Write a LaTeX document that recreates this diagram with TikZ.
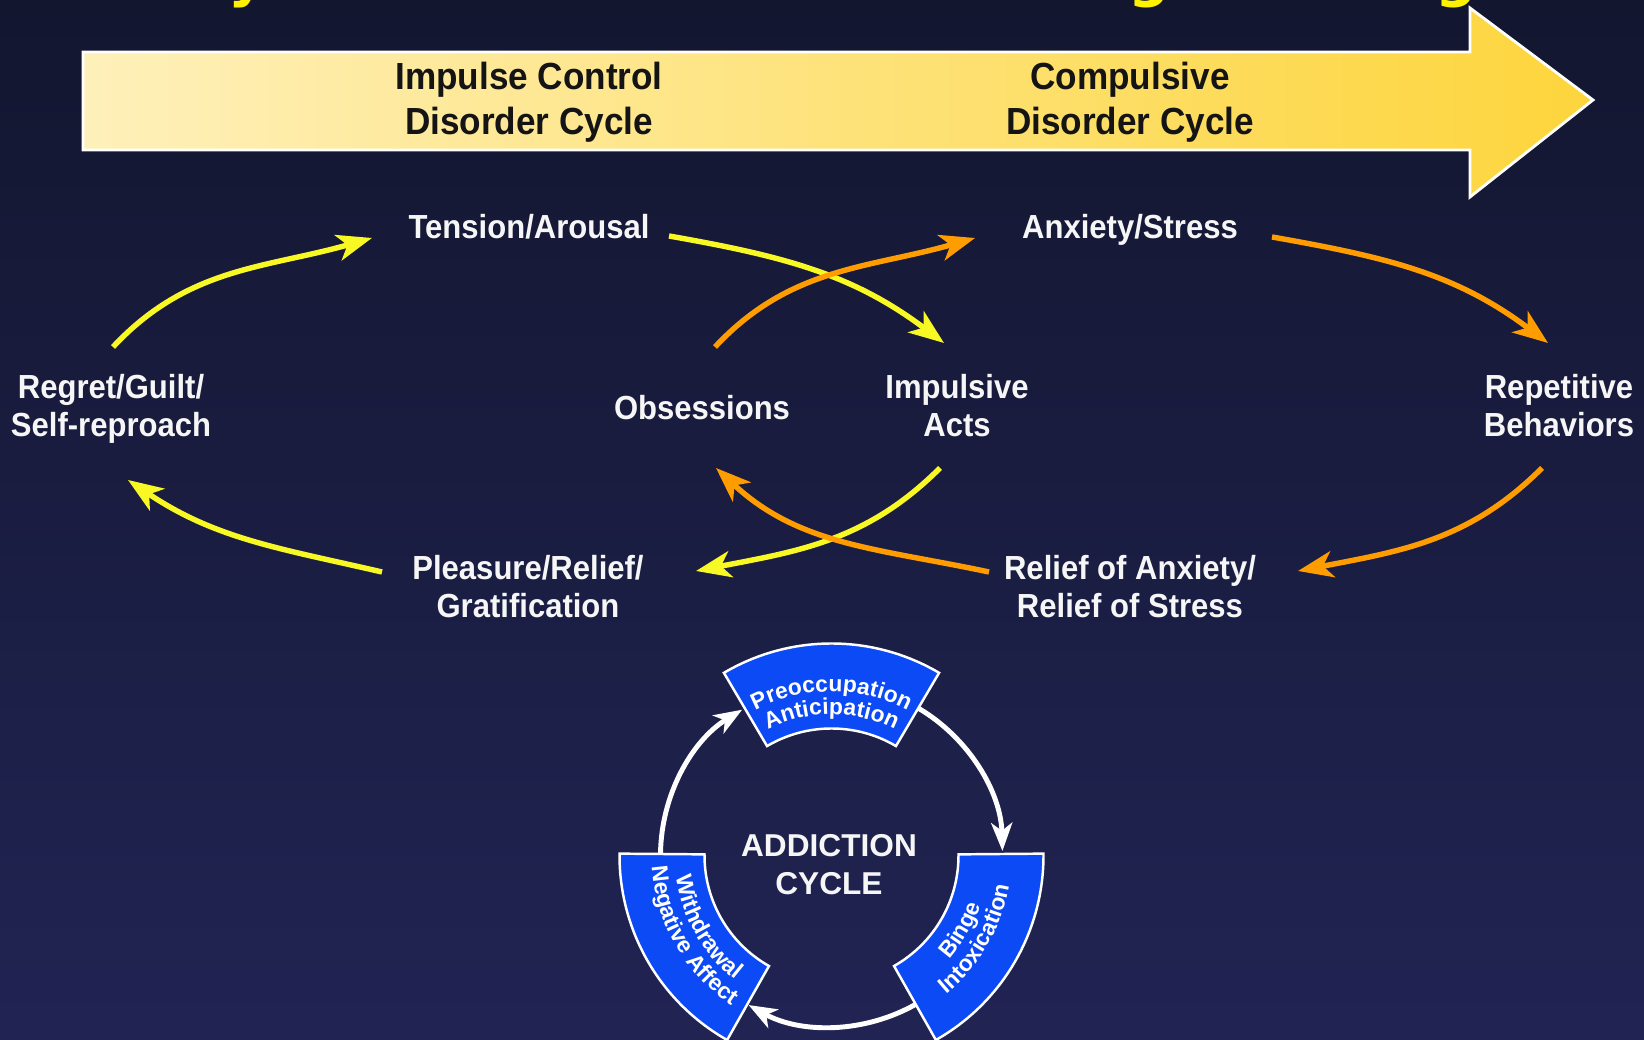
\documentclass[tikz,border=0pt]{standalone}
\usepackage{fontspec}
\setmainfont{Liberation Sans}[FakeStretch=0.93]
\newfontfamily\ringfont{Liberation Sans}
\newfontfamily\headfont{DejaVu Sans}
\usetikzlibrary{arrows.meta,calc,decorations.text}

\definecolor{bgtop}{RGB}{19,22,47}
\definecolor{bgbot}{RGB}{33,36,83}
\definecolor{bandL}{RGB}{254,240,186}
\definecolor{bandR}{RGB}{253,213,60}
\definecolor{impY}{RGB}{248,248,36}
\definecolor{cmpO}{RGB}{255,156,0}
\definecolor{stageB}{RGB}{12,74,246}
\definecolor{labelW}{RGB}{246,246,246}

\newcommand\stagetextfont{\ringfont\bfseries\fontsize{13}{13}\selectfont}

\tikzset{
  lbl/.style={text=labelW, font=\bfseries\fontsize{19}{21.6}\selectfont, align=center, inner sep=0pt},
  bandlbl/.style={text=black!92, font=\bfseries\fontsize{21.5}{25.6}\selectfont, align=center, inner sep=0pt},
  cycarrow/.style={line width=3.1pt, -{Stealth[length=20pt,width=15pt,inset=5.5pt]}},
  impcyc/.style={cycarrow, draw=impY},
  cmpcyc/.style={cycarrow, draw=cmpO},
  stagebox/.style={fill=stageB, draw=white, line width=1.4pt, line join=miter},
  ringarrow/.style={draw=white, line width=2.8pt, -{Stealth[length=16pt,width=12pt,inset=4.5pt]}},
  stagetext/.style={decorate, decoration={text along path, text align=center, text color=white, text={|\stagetextfont|#1}}},
}

\begin{document}
\begin{tikzpicture}[x=0.02cm,y=0.02cm]
\useasboundingbox (0,0) rectangle (1644,1040);
\shade[top color=bgtop,bottom color=bgbot] (0,0) rectangle (1644,1040);

% heading, only its descenders reach into the frame
\begin{scope}
  \clip (0,0) rectangle (1644,1040);
  \foreach \px/\ch [count=\i] in {228/y,1128/g,1435/g}
    \node[anchor=base west, inner sep=0pt, text=yellow,
          font=\headfont\bfseries\fontsize{33}{33}\selectfont] (head\i) at (\px,1044) {\ch};
\end{scope}

% progression band
\shadedraw[left color=bandL, right color=bandR, draw=white, line width=1.6pt, line join=miter]
  (83,988) -- (1470,988) -- (1470,1032) -- (1593,940) -- (1470,843) -- (1470,890) -- (83,890) -- cycle;
\node[bandlbl] (impband) at (529,938) {Impulse Control\\Disorder Cycle};
\node[bandlbl] (cmpband) at (1130,938) {Compulsive\\Disorder Cycle};

% impulse control cycle
\node[lbl] (tension)   at (529,813.5) {Tension/Arousal};
\node[lbl] (impulsive) at (957,634)   {Impulsive\\Acts};
\node[lbl] (pleasure)  at (528,453)   {Pleasure/Relief/\\Gratification};
\node[lbl] (regret)    at (111,631)   {Regret/Guilt/\\Self-reproach};

% compulsive cycle
\node[lbl] (anxiety)    at (1130,810.5) {Anxiety/Stress};
\node[lbl] (repetitive) at (1559,634)   {Repetitive\\Behaviors};
\node[lbl] (reliefn)    at (1130,453)   {Relief of Anxiety/\\Relief of Stress};
\node[lbl] (obsess)     at (702,632)    {Obsessions};

\draw[impcyc] ([shift={(2,62)}]regret.center) to[out=47,in=196] ([shift={(-157,-11.5)}]tension.center);
\draw[impcyc] ([shift={(140,-9.5)}]tension.center) to[out=-10,in=143] ([shift={(-13,63)}]impulsive.center);
\draw[impcyc] ([shift={(-17,-62)}]impulsive.center) to[out=225,in=11] ([shift={(168,16)}]pleasure.center);
\draw[impcyc] ([shift={(-146,15)}]pleasure.center) to[out=167,in=326] ([shift={(17,-71)}]regret.center);

\draw[cmpcyc] ([shift={(13,61)}]obsess.center) to[out=47,in=196] ([shift={(-155,-8.5)}]anxiety.center);
\draw[cmpcyc] ([shift={(142,-7.5)}]anxiety.center) to[out=-10,in=143] ([shift={(-11,63)}]repetitive.center);
\draw[cmpcyc] ([shift={(-17,-62)}]repetitive.center) to[out=225,in=11] ([shift={(168,16)}]reliefn.center);
\draw[cmpcyc] ([shift={(-141,15)}]reliefn.center) to[out=168,in=317] ([shift={(14,-60)}]obsess.center);

% addiction cycle
\coordinate (hub) at (831.5,184.5);
\draw[ringarrow] ($(hub)+(59.5:171)$) arc[start angle=59.5, end angle=1.5, radius=171];
\draw[ringarrow] ($(hub)+(-60.5:171)$) arc[start angle=-60.5, end angle=-119, radius=171];
\draw[ringarrow] ($(hub)+(179.5:171)$) arc[start angle=179.5, end angle=121.5, radius=171];

\foreach \s/\e in {59.5/120.5,-60.5/0.5,179.5/240.5}
  \draw[stagebox] ($(hub)+(\s:212)$) arc[start angle=\s, end angle=\e, radius=212]
    -- ($(hub)+(\e:127)$) arc[start angle=\e, end angle=\s, radius=127] -- cycle;

\path[stagetext=Preoccupation] ($(hub)+(125:164)$) arc[start angle=125, end angle=55, radius=164];
\path[stagetext=Anticipation]  ($(hub)+(125:141)$) arc[start angle=125, end angle=55, radius=141];
\path[stagetext=Binge]         ($(hub)+(-65:157)$) arc[start angle=-65, end angle=5, radius=157];
\path[stagetext=Intoxication]  ($(hub)+(-65:180)$) arc[start angle=-65, end angle=5, radius=180];
\path[stagetext=Withdrawal]    ($(hub)+(175:157)$) arc[start angle=175, end angle=245, radius=157];
\path[stagetext={Negative Affect}] ($(hub)+(175:180)$) arc[start angle=175, end angle=245, radius=180];

\node[text=labelW, font=\ringfont\bfseries\fontsize{18}{21.5}\selectfont, align=center, inner sep=0pt]
  (addict) at (829,175) {ADDICTION\\CYCLE};
\end{tikzpicture}
\end{document}
